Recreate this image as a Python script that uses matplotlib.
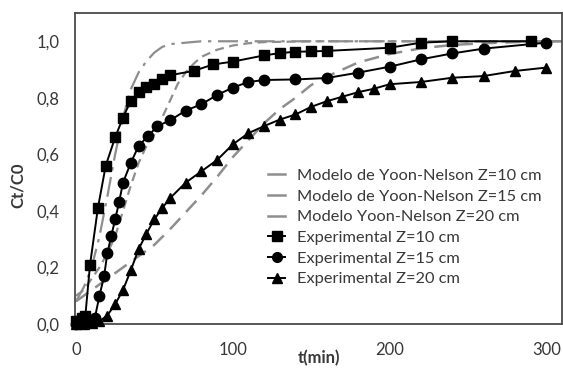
import matplotlib
matplotlib.use("Agg")
import matplotlib.pyplot as plt
from matplotlib.lines import Line2D

plt.rcParams['font.family'] = ['Lato', 'DejaVu Sans']

# Experimental breakthrough data (t in min, Ct/C0)
t_exp10 = [0, 2, 4, 6, 9, 14, 19, 25, 30, 35, 40, 45, 50, 55, 60, 75, 87.5,
           100, 120, 130, 140, 150, 160, 200, 220, 240, 290]
c_exp10 = [0.01, 0.01, 0.02, 0.03, 0.21, 0.41, 0.56, 0.66, 0.73, 0.79, 0.82,
           0.84, 0.85, 0.865, 0.88, 0.895, 0.918, 0.928, 0.95, 0.958, 0.963,
           0.964, 0.966, 0.977, 0.995, 1.0, 1.0]

t_exp15 = [0, 4, 8, 12, 15, 18, 20, 22.5, 25, 27.5, 30, 35, 40, 46, 52, 60,
           70, 80, 90, 100, 110, 120, 140, 160, 180, 200, 220, 240, 260, 300]
c_exp15 = [0.0, 0.01, 0.01, 0.02, 0.10, 0.17, 0.25, 0.31, 0.37, 0.43, 0.50,
           0.57, 0.63, 0.665, 0.70, 0.72, 0.755, 0.777, 0.81, 0.836, 0.856,
           0.863, 0.865, 0.87, 0.889, 0.91, 0.936, 0.957, 0.974, 0.995]

t_exp20 = [0, 5, 10, 15, 20, 25, 30, 35, 40, 45, 50, 55, 60, 70, 80, 90, 100,
           110, 120, 130, 140, 150, 160, 170, 180, 190, 200, 220, 240, 260,
           280, 300]
c_exp20 = [0.0, 0.0, 0.005, 0.01, 0.03, 0.07, 0.12, 0.19, 0.265, 0.32, 0.37,
           0.41, 0.445, 0.50, 0.54, 0.58, 0.635, 0.675, 0.70, 0.723, 0.741,
           0.768, 0.788, 0.804, 0.82, 0.832, 0.848, 0.856, 0.871, 0.877,
           0.895, 0.907]

# Yoon-Nelson model curves
t_mod10 = [0, 5, 10, 15, 20, 25, 30, 35, 40, 45, 50, 55, 60, 70, 80, 100,
           150, 200, 250, 300, 310]
c_mod10 = [0.08, 0.13, 0.20, 0.31, 0.45, 0.60, 0.73, 0.83, 0.89, 0.93, 0.96,
           0.98, 0.99, 0.995, 1.0, 1.0, 1.0, 1.0, 1.0, 1.0, 1.0]

t_mod15 = [0, 5, 10, 15, 20, 25, 30, 35, 40, 45, 50, 55, 60, 65, 70, 75, 80,
           90, 100, 110, 120, 150, 200, 250, 300, 310]
c_mod15 = [0.10, 0.12, 0.16, 0.20, 0.25, 0.31, 0.40, 0.49, 0.57, 0.63, 0.67,
           0.73, 0.79, 0.85, 0.89, 0.92, 0.945, 0.97, 0.985, 0.993, 0.997,
           1.0, 1.0, 1.0, 1.0, 1.0]

t_mod20 = [0, 10, 20, 30, 40, 50, 60, 70, 80, 90, 100, 110, 120, 130, 140,
           150, 160, 170, 180, 190, 200, 210, 220, 240, 260, 280, 300, 310]
c_mod20 = [0.08, 0.12, 0.16, 0.20, 0.24, 0.28, 0.335, 0.395, 0.455, 0.52,
           0.59, 0.65, 0.71, 0.76, 0.80, 0.845, 0.875, 0.90, 0.925, 0.94,
           0.955, 0.965, 0.975, 0.987, 0.993, 0.997, 1.0, 1.0]

labels = ["Modelo de Yoon-Nelson Z=10 cm",
          "Modelo de Yoon-Nelson Z=15 cm",
          "Modelo Yoon-Nelson Z=20 cm",
          "Experimental Z=10 cm",
          "Experimental Z=15 cm",
          "Experimental Z=20 cm"]

x_ticks = [0, 100, 200, 300]
y_ticks = [0.0, 0.2, 0.4, 0.6, 0.8, 1.0]
y_tick_labels = ["0,0", "0,2", "0,4", "0,6", "0,8", "1,0"]

grey = '#8e8e8e'
text_col = '#383838'

fig = plt.figure(figsize=(5.63, 3.69), dpi=100)
ax = fig.add_axes([75 / 563, 1 - 324 / 369, 487 / 563, 311 / 369])

ax.plot(t_mod10, c_mod10, color=grey, lw=1.6, dashes=(9, 3, 1.5, 3))
ax.plot(t_mod15, c_mod15, color=grey, lw=1.6, dashes=(4, 2.5))
ax.plot(t_mod20, c_mod20, color=grey, lw=1.8, dashes=(6, 3.5))

ax.plot(t_exp10, c_exp10, color='black', lw=1.4, marker='s', ms=7,
        clip_on=False, zorder=5)
ax.plot(t_exp15, c_exp15, color='black', lw=1.4, marker='o', ms=7.5,
        clip_on=False, zorder=5)
ax.plot(t_exp20, c_exp20, color='black', lw=1.4, marker='^', ms=7.5,
        clip_on=False, zorder=5)

ax.set_xlim(-0.6, 310)
ax.set_ylim(0, 1.1)
ax.set_xticks(x_ticks)
ax.set_yticks(y_ticks)
ax.set_yticklabels(y_tick_labels)
ax.tick_params(length=0, labelsize=12, colors=text_col)
ax.tick_params(axis='x', pad=13)
ax.tick_params(axis='y', pad=11)
for sp in ax.spines.values():
    sp.set_color('#4a4a4a')
    sp.set_linewidth(1.3)

ax.set_xlabel("t(min)", fontsize=12, fontweight='bold', color=text_col)
ax.xaxis.set_label_coords(0.5, -0.085)
ax.set_ylabel("Ct/C0", fontsize=12, fontweight='bold', color=text_col)
ax.yaxis.set_label_coords(-0.1, 0.447)

handles = [
    Line2D([], [], color=grey, lw=1.8),
    Line2D([], [], color=grey, lw=1.8),
    Line2D([], [], color=grey, lw=1.8),
    Line2D([], [], color='black', lw=1.4, marker='s', ms=7),
    Line2D([], [], color='black', lw=1.4, marker='o', ms=7),
    Line2D([], [], color='black', lw=1.4, marker='^', ms=7),
]
leg = ax.legend(handles, labels, loc='upper left',
                bbox_to_anchor=(0.397, 0.5), frameon=False, fontsize=11.8,
                handlelength=1.0, handletextpad=0.75, labelspacing=0.38,
                borderpad=0, borderaxespad=0)
for txt in leg.get_texts():
    txt.set_color(text_col)

fig.savefig("out.png", dpi=100)
